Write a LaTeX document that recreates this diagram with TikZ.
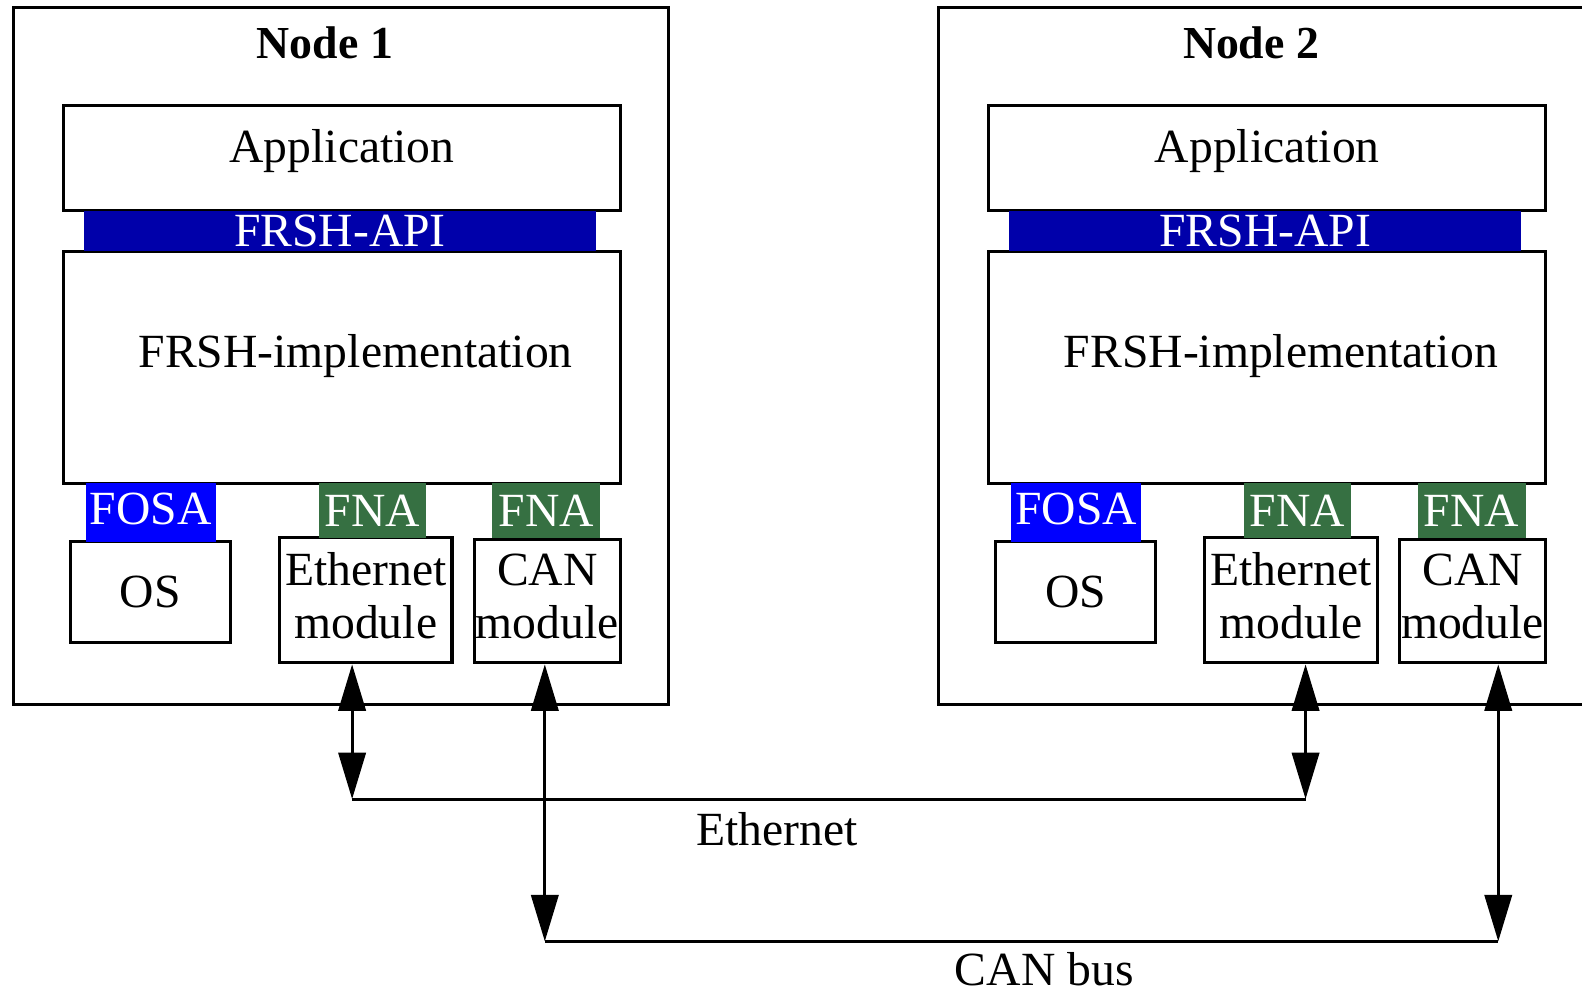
\documentclass[tikz,border=0pt]{standalone}
\usepackage{fontspec}
\setmainfont{Liberation Serif}
\usetikzlibrary{arrows.meta}

\definecolor{apiblue}{RGB}{0,0,170}
\definecolor{fosablue}{RGB}{0,0,255}
\definecolor{fnagreen}{RGB}{54,112,66}

\tikzset{
	frame/.style={draw, line width=1.5pt, minimum height=345.5pt, inner sep=0pt},
	title/.style={font=\fontsize{22.7}{26}\selectfont\bfseries},
	layer/.style={draw, line width=1.5pt, fill=white, inner sep=0pt, align=center},
	module/.style={layer, text depth=5pt},
	iface/.style={text=white, inner sep=0pt},
	bus/.style={line width=1.5pt},
	link/.style={line width=1.5pt, {Triangle[length=23pt,width=13.5pt]}-{Triangle[length=23pt,width=13.5pt]}},
}

\begin{document}
\begin{tikzpicture}[x=0.5pt, y=-0.5pt, font=\fontsize{23.6}{26.5}\selectfont]
		%%%%% START %%%%%
		\useasboundingbox (0,0) rectangle (1568,985);
		\clip (0,0) rectangle (1568,985);
		
		% node 1
		\node[frame, minimum width=325pt] (frm1) at (338,352.5) {};
		\node[title] (title1) at (322,42) {Node 1};
		\node[layer, minimum width=276pt, minimum height=52pt,
			label={[yshift=3.5pt]center:Application}] (app1) at (339,157) {};
		\node[layer, minimum width=276pt, minimum height=115pt,
			label={[xshift=6.75pt, yshift=5.5pt]center:FRSH-implementation}] (impl1) at (339,364) {};
		\node[layer, minimum width=79pt, minimum height=50pt] (os1) at (149,587) {OS};
		\node[module, minimum width=85.5pt, minimum height=62pt] (eth1) at (362.5,595) {Ethernet\\module};
		\node[module, minimum width=72.5pt, minimum height=61pt] (can1) at (542.5,596) {CAN\\module};
		
		\node[iface, fill=apiblue, minimum width=254pt, minimum height=20pt] (api1) at (337,229) {FRSH-API};
		\node[iface, fill=fosablue, text depth=4pt, minimum width=64.5pt, minimum height=29pt] (fosa1) at (149.5,508) {FOSA};
		\node[iface, fill=fnagreen, minimum width=53pt, minimum height=27pt] (fnae1) at (369,506) {FNA};
		\node[iface, fill=fnagreen, minimum width=53.5pt, minimum height=27pt] (fnac1) at (541.5,506) {FNA};
		
		% node 2 (its frame runs past the right edge)
		\node[frame, overlay, minimum width=335pt] (frm2) at (1265,352.5) {};
		\node[title] (title2) at (1240,42) {Node 2};
		\node[layer, minimum width=276pt, minimum height=52pt,
			label={[yshift=3.5pt]center:Application}] (app2) at (1256,157) {};
		\node[layer, minimum width=276pt, minimum height=115pt,
			label={[xshift=6.75pt, yshift=5.5pt]center:FRSH-implementation}] (impl2) at (1256,364) {};
		\node[layer, minimum width=79pt, minimum height=50pt] (os2) at (1066,587) {OS};
		\node[module, minimum width=85.5pt, minimum height=62pt] (eth2) at (1279.5,595) {Ethernet\\module};
		\node[module, minimum width=72.5pt, minimum height=61pt] (can2) at (1459.5,596) {CAN\\module};
		
		\node[iface, fill=apiblue, minimum width=254pt, minimum height=20pt] (api2) at (1254,229) {FRSH-API};
		\node[iface, fill=fosablue, text depth=4pt, minimum width=64.5pt, minimum height=29pt] (fosa2) at (1066.5,508) {FOSA};
		\node[iface, fill=fnagreen, minimum width=53pt, minimum height=27pt] (fnae2) at (1286,506) {FNA};
		\node[iface, fill=fnagreen, minimum width=53.5pt, minimum height=27pt] (fnac2) at (1458.5,506) {FNA};
		
		% buses
		\coordinate (ethL) at (349,792);
		\coordinate (ethR) at (1294,792);
		\coordinate (canL) at (540,933);
		\coordinate (canR) at (1485,933);
		
		\draw[link] (eth1.south -| ethL) -- (ethL);
		\draw[bus] (ethL) -- (ethR);
		\draw[link] (eth2.south -| ethR) -- (ethR);
		\node[inner sep=0pt] (ethlbl) at (770,822) {Ethernet};
		
		\draw[link] (can1.south -| canL) -- (canL);
		\draw[bus] (canL) -- (canR);
		\draw[link] (can2.south -| canR) -- (canR);
		\node[inner sep=0pt] (canlbl) at (1035,961) {CAN bus};
		
		%%%%% END %%%%%
\end{tikzpicture}
\end{document}
